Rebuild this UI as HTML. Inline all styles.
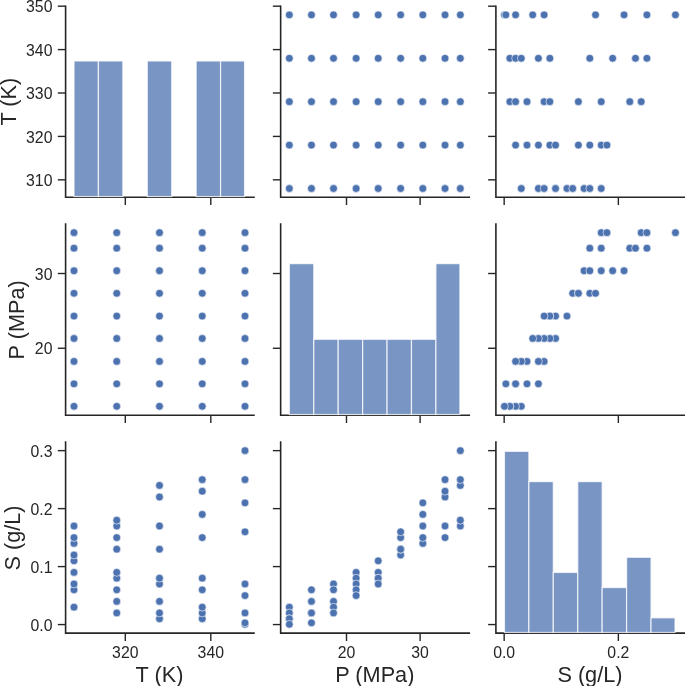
<!DOCTYPE html>
<html><head><meta charset="utf-8"><style>
html,body{margin:0;padding:0;background:#fff;}
body{width:685px;height:686px;overflow:hidden;font-family:"Liberation Sans",sans-serif;}
svg{display:block;}
svg{will-change:transform;}
</style></head><body>
<svg width="685" height="686" viewBox="0 0 685 686">
<rect width="685" height="686" fill="#fff"/>
<path d="M65.60 6.19V197.25H253.95" fill="none" stroke="#262626" stroke-width="1.6" stroke-linecap="square"/>
<line x1="57.80" y1="179.83" x2="65.60" y2="179.83" stroke="#262626" stroke-width="1.4"/>
<line x1="57.80" y1="136.42" x2="65.60" y2="136.42" stroke="#262626" stroke-width="1.4"/>
<line x1="57.80" y1="93.01" x2="65.60" y2="93.01" stroke="#262626" stroke-width="1.4"/>
<line x1="57.80" y1="49.60" x2="65.60" y2="49.60" stroke="#262626" stroke-width="1.4"/>
<line x1="57.80" y1="6.19" x2="65.60" y2="6.19" stroke="#262626" stroke-width="1.4"/>
<line x1="125.30" y1="197.25" x2="125.30" y2="205.05" stroke="#262626" stroke-width="1.4"/>
<line x1="210.80" y1="197.25" x2="210.80" y2="205.05" stroke="#262626" stroke-width="1.4"/>
<rect x="74.00" y="60.98" width="24.43" height="135.57" fill="#4c72b0" fill-opacity="0.75" stroke="#fff" stroke-opacity="0.75" stroke-width="1.25"/>
<rect x="98.43" y="60.98" width="24.43" height="135.57" fill="#4c72b0" fill-opacity="0.75" stroke="#fff" stroke-opacity="0.75" stroke-width="1.25"/>
<rect x="147.29" y="60.98" width="24.43" height="135.57" fill="#4c72b0" fill-opacity="0.75" stroke="#fff" stroke-opacity="0.75" stroke-width="1.25"/>
<rect x="196.14" y="60.98" width="24.43" height="135.57" fill="#4c72b0" fill-opacity="0.75" stroke="#fff" stroke-opacity="0.75" stroke-width="1.25"/>
<rect x="220.57" y="60.98" width="23.98" height="135.57" fill="#4c72b0" fill-opacity="0.75" stroke="#fff" stroke-opacity="0.75" stroke-width="1.25"/>
<circle cx="289.34" cy="188.51" r="3.9" fill="#4c72b0" stroke="#fff" stroke-width="0.6"/>
<circle cx="311.46" cy="188.51" r="3.9" fill="#4c72b0" stroke="#fff" stroke-width="0.6"/>
<circle cx="333.54" cy="188.51" r="3.9" fill="#4c72b0" stroke="#fff" stroke-width="0.6"/>
<circle cx="356.14" cy="188.51" r="3.9" fill="#4c72b0" stroke="#fff" stroke-width="0.6"/>
<circle cx="378.23" cy="188.51" r="3.9" fill="#4c72b0" stroke="#fff" stroke-width="0.6"/>
<circle cx="400.64" cy="188.51" r="3.9" fill="#4c72b0" stroke="#fff" stroke-width="0.6"/>
<circle cx="422.83" cy="188.51" r="3.9" fill="#4c72b0" stroke="#fff" stroke-width="0.6"/>
<circle cx="445.03" cy="188.51" r="3.9" fill="#4c72b0" stroke="#fff" stroke-width="0.6"/>
<circle cx="460.34" cy="188.51" r="3.9" fill="#4c72b0" stroke="#fff" stroke-width="0.6"/>
<circle cx="289.34" cy="145.10" r="3.9" fill="#4c72b0" stroke="#fff" stroke-width="0.6"/>
<circle cx="311.46" cy="145.10" r="3.9" fill="#4c72b0" stroke="#fff" stroke-width="0.6"/>
<circle cx="333.54" cy="145.10" r="3.9" fill="#4c72b0" stroke="#fff" stroke-width="0.6"/>
<circle cx="356.14" cy="145.10" r="3.9" fill="#4c72b0" stroke="#fff" stroke-width="0.6"/>
<circle cx="378.23" cy="145.10" r="3.9" fill="#4c72b0" stroke="#fff" stroke-width="0.6"/>
<circle cx="400.64" cy="145.10" r="3.9" fill="#4c72b0" stroke="#fff" stroke-width="0.6"/>
<circle cx="422.83" cy="145.10" r="3.9" fill="#4c72b0" stroke="#fff" stroke-width="0.6"/>
<circle cx="445.03" cy="145.10" r="3.9" fill="#4c72b0" stroke="#fff" stroke-width="0.6"/>
<circle cx="460.34" cy="145.10" r="3.9" fill="#4c72b0" stroke="#fff" stroke-width="0.6"/>
<circle cx="289.34" cy="101.69" r="3.9" fill="#4c72b0" stroke="#fff" stroke-width="0.6"/>
<circle cx="311.46" cy="101.69" r="3.9" fill="#4c72b0" stroke="#fff" stroke-width="0.6"/>
<circle cx="333.54" cy="101.69" r="3.9" fill="#4c72b0" stroke="#fff" stroke-width="0.6"/>
<circle cx="356.14" cy="101.69" r="3.9" fill="#4c72b0" stroke="#fff" stroke-width="0.6"/>
<circle cx="378.23" cy="101.69" r="3.9" fill="#4c72b0" stroke="#fff" stroke-width="0.6"/>
<circle cx="400.64" cy="101.69" r="3.9" fill="#4c72b0" stroke="#fff" stroke-width="0.6"/>
<circle cx="422.83" cy="101.69" r="3.9" fill="#4c72b0" stroke="#fff" stroke-width="0.6"/>
<circle cx="445.03" cy="101.69" r="3.9" fill="#4c72b0" stroke="#fff" stroke-width="0.6"/>
<circle cx="460.34" cy="101.69" r="3.9" fill="#4c72b0" stroke="#fff" stroke-width="0.6"/>
<circle cx="289.34" cy="58.28" r="3.9" fill="#4c72b0" stroke="#fff" stroke-width="0.6"/>
<circle cx="311.46" cy="58.28" r="3.9" fill="#4c72b0" stroke="#fff" stroke-width="0.6"/>
<circle cx="333.54" cy="58.28" r="3.9" fill="#4c72b0" stroke="#fff" stroke-width="0.6"/>
<circle cx="356.14" cy="58.28" r="3.9" fill="#4c72b0" stroke="#fff" stroke-width="0.6"/>
<circle cx="378.23" cy="58.28" r="3.9" fill="#4c72b0" stroke="#fff" stroke-width="0.6"/>
<circle cx="400.64" cy="58.28" r="3.9" fill="#4c72b0" stroke="#fff" stroke-width="0.6"/>
<circle cx="422.83" cy="58.28" r="3.9" fill="#4c72b0" stroke="#fff" stroke-width="0.6"/>
<circle cx="445.03" cy="58.28" r="3.9" fill="#4c72b0" stroke="#fff" stroke-width="0.6"/>
<circle cx="460.34" cy="58.28" r="3.9" fill="#4c72b0" stroke="#fff" stroke-width="0.6"/>
<circle cx="289.34" cy="14.87" r="3.9" fill="#4c72b0" stroke="#fff" stroke-width="0.6"/>
<circle cx="311.46" cy="14.87" r="3.9" fill="#4c72b0" stroke="#fff" stroke-width="0.6"/>
<circle cx="333.54" cy="14.87" r="3.9" fill="#4c72b0" stroke="#fff" stroke-width="0.6"/>
<circle cx="356.14" cy="14.87" r="3.9" fill="#4c72b0" stroke="#fff" stroke-width="0.6"/>
<circle cx="378.23" cy="14.87" r="3.9" fill="#4c72b0" stroke="#fff" stroke-width="0.6"/>
<circle cx="400.64" cy="14.87" r="3.9" fill="#4c72b0" stroke="#fff" stroke-width="0.6"/>
<circle cx="422.83" cy="14.87" r="3.9" fill="#4c72b0" stroke="#fff" stroke-width="0.6"/>
<circle cx="445.03" cy="14.87" r="3.9" fill="#4c72b0" stroke="#fff" stroke-width="0.6"/>
<circle cx="460.34" cy="14.87" r="3.9" fill="#4c72b0" stroke="#fff" stroke-width="0.6"/>
<path d="M280.65 6.19V197.25H469.29" fill="none" stroke="#262626" stroke-width="1.6" stroke-linecap="square"/>
<line x1="272.85" y1="179.83" x2="280.65" y2="179.83" stroke="#262626" stroke-width="1.4"/>
<line x1="272.85" y1="136.42" x2="280.65" y2="136.42" stroke="#262626" stroke-width="1.4"/>
<line x1="272.85" y1="93.01" x2="280.65" y2="93.01" stroke="#262626" stroke-width="1.4"/>
<line x1="272.85" y1="49.60" x2="280.65" y2="49.60" stroke="#262626" stroke-width="1.4"/>
<line x1="272.85" y1="6.19" x2="280.65" y2="6.19" stroke="#262626" stroke-width="1.4"/>
<line x1="346.50" y1="197.25" x2="346.50" y2="205.05" stroke="#262626" stroke-width="1.4"/>
<line x1="420.11" y1="197.25" x2="420.11" y2="205.05" stroke="#262626" stroke-width="1.4"/>
<circle cx="521.29" cy="188.51" r="3.9" fill="#4c72b0" stroke="#fff" stroke-width="0.6"/>
<circle cx="538.42" cy="188.51" r="3.9" fill="#4c72b0" stroke="#fff" stroke-width="0.6"/>
<circle cx="544.13" cy="188.51" r="3.9" fill="#4c72b0" stroke="#fff" stroke-width="0.6"/>
<circle cx="555.55" cy="188.51" r="3.9" fill="#4c72b0" stroke="#fff" stroke-width="0.6"/>
<circle cx="566.97" cy="188.51" r="3.9" fill="#4c72b0" stroke="#fff" stroke-width="0.6"/>
<circle cx="572.68" cy="188.51" r="3.9" fill="#4c72b0" stroke="#fff" stroke-width="0.6"/>
<circle cx="584.10" cy="188.51" r="3.9" fill="#4c72b0" stroke="#fff" stroke-width="0.6"/>
<circle cx="589.81" cy="188.51" r="3.9" fill="#4c72b0" stroke="#fff" stroke-width="0.6"/>
<circle cx="601.23" cy="188.51" r="3.9" fill="#4c72b0" stroke="#fff" stroke-width="0.6"/>
<circle cx="515.58" cy="145.10" r="3.9" fill="#4c72b0" stroke="#fff" stroke-width="0.6"/>
<circle cx="527.00" cy="145.10" r="3.9" fill="#4c72b0" stroke="#fff" stroke-width="0.6"/>
<circle cx="538.42" cy="145.10" r="3.9" fill="#4c72b0" stroke="#fff" stroke-width="0.6"/>
<circle cx="549.84" cy="145.10" r="3.9" fill="#4c72b0" stroke="#fff" stroke-width="0.6"/>
<circle cx="555.55" cy="145.10" r="3.9" fill="#4c72b0" stroke="#fff" stroke-width="0.6"/>
<circle cx="578.39" cy="145.10" r="3.9" fill="#4c72b0" stroke="#fff" stroke-width="0.6"/>
<circle cx="589.81" cy="145.10" r="3.9" fill="#4c72b0" stroke="#fff" stroke-width="0.6"/>
<circle cx="601.23" cy="145.10" r="3.9" fill="#4c72b0" stroke="#fff" stroke-width="0.6"/>
<circle cx="606.94" cy="145.10" r="3.9" fill="#4c72b0" stroke="#fff" stroke-width="0.6"/>
<circle cx="509.87" cy="101.69" r="3.9" fill="#4c72b0" stroke="#fff" stroke-width="0.6"/>
<circle cx="515.58" cy="101.69" r="3.9" fill="#4c72b0" stroke="#fff" stroke-width="0.6"/>
<circle cx="527.00" cy="101.69" r="3.9" fill="#4c72b0" stroke="#fff" stroke-width="0.6"/>
<circle cx="544.13" cy="101.69" r="3.9" fill="#4c72b0" stroke="#fff" stroke-width="0.6"/>
<circle cx="549.84" cy="101.69" r="3.9" fill="#4c72b0" stroke="#fff" stroke-width="0.6"/>
<circle cx="578.39" cy="101.69" r="3.9" fill="#4c72b0" stroke="#fff" stroke-width="0.6"/>
<circle cx="601.23" cy="101.69" r="3.9" fill="#4c72b0" stroke="#fff" stroke-width="0.6"/>
<circle cx="629.77" cy="101.69" r="3.9" fill="#4c72b0" stroke="#fff" stroke-width="0.6"/>
<circle cx="641.19" cy="101.69" r="3.9" fill="#4c72b0" stroke="#fff" stroke-width="0.6"/>
<circle cx="509.87" cy="58.28" r="3.9" fill="#4c72b0" stroke="#fff" stroke-width="0.6"/>
<circle cx="515.58" cy="58.28" r="3.9" fill="#4c72b0" stroke="#fff" stroke-width="0.6"/>
<circle cx="521.29" cy="58.28" r="3.9" fill="#4c72b0" stroke="#fff" stroke-width="0.6"/>
<circle cx="538.42" cy="58.28" r="3.9" fill="#4c72b0" stroke="#fff" stroke-width="0.6"/>
<circle cx="549.84" cy="58.28" r="3.9" fill="#4c72b0" stroke="#fff" stroke-width="0.6"/>
<circle cx="589.81" cy="58.28" r="3.9" fill="#4c72b0" stroke="#fff" stroke-width="0.6"/>
<circle cx="612.65" cy="58.28" r="3.9" fill="#4c72b0" stroke="#fff" stroke-width="0.6"/>
<circle cx="635.48" cy="58.28" r="3.9" fill="#4c72b0" stroke="#fff" stroke-width="0.6"/>
<circle cx="646.90" cy="58.28" r="3.9" fill="#4c72b0" stroke="#fff" stroke-width="0.6"/>
<circle cx="504.45" cy="14.87" r="3.9" fill="#4c72b0" stroke="#fff" stroke-width="0.6"/>
<circle cx="505.88" cy="14.87" r="3.9" fill="#4c72b0" stroke="#fff" stroke-width="0.6"/>
<circle cx="515.58" cy="14.87" r="3.9" fill="#4c72b0" stroke="#fff" stroke-width="0.6"/>
<circle cx="532.71" cy="14.87" r="3.9" fill="#4c72b0" stroke="#fff" stroke-width="0.6"/>
<circle cx="544.13" cy="14.87" r="3.9" fill="#4c72b0" stroke="#fff" stroke-width="0.6"/>
<circle cx="595.52" cy="14.87" r="3.9" fill="#4c72b0" stroke="#fff" stroke-width="0.6"/>
<circle cx="624.06" cy="14.87" r="3.9" fill="#4c72b0" stroke="#fff" stroke-width="0.6"/>
<circle cx="646.90" cy="14.87" r="3.9" fill="#4c72b0" stroke="#fff" stroke-width="0.6"/>
<circle cx="675.45" cy="14.87" r="3.9" fill="#4c72b0" stroke="#fff" stroke-width="0.6"/>
<path d="M495.90 6.19V197.25H684.40" fill="none" stroke="#262626" stroke-width="1.6" stroke-linecap="square"/>
<line x1="488.10" y1="179.83" x2="495.90" y2="179.83" stroke="#262626" stroke-width="1.4"/>
<line x1="488.10" y1="136.42" x2="495.90" y2="136.42" stroke="#262626" stroke-width="1.4"/>
<line x1="488.10" y1="93.01" x2="495.90" y2="93.01" stroke="#262626" stroke-width="1.4"/>
<line x1="488.10" y1="49.60" x2="495.90" y2="49.60" stroke="#262626" stroke-width="1.4"/>
<line x1="488.10" y1="6.19" x2="495.90" y2="6.19" stroke="#262626" stroke-width="1.4"/>
<line x1="504.16" y1="197.25" x2="504.16" y2="205.05" stroke="#262626" stroke-width="1.4"/>
<line x1="618.35" y1="197.25" x2="618.35" y2="205.05" stroke="#262626" stroke-width="1.4"/>
<circle cx="74.00" cy="406.30" r="3.9" fill="#4c72b0" stroke="#fff" stroke-width="0.6"/>
<circle cx="74.00" cy="383.84" r="3.9" fill="#4c72b0" stroke="#fff" stroke-width="0.6"/>
<circle cx="74.00" cy="361.41" r="3.9" fill="#4c72b0" stroke="#fff" stroke-width="0.6"/>
<circle cx="74.00" cy="338.47" r="3.9" fill="#4c72b0" stroke="#fff" stroke-width="0.6"/>
<circle cx="74.00" cy="316.04" r="3.9" fill="#4c72b0" stroke="#fff" stroke-width="0.6"/>
<circle cx="74.00" cy="293.28" r="3.9" fill="#4c72b0" stroke="#fff" stroke-width="0.6"/>
<circle cx="74.00" cy="270.75" r="3.9" fill="#4c72b0" stroke="#fff" stroke-width="0.6"/>
<circle cx="74.00" cy="248.21" r="3.9" fill="#4c72b0" stroke="#fff" stroke-width="0.6"/>
<circle cx="74.00" cy="232.66" r="3.9" fill="#4c72b0" stroke="#fff" stroke-width="0.6"/>
<circle cx="116.75" cy="406.30" r="3.9" fill="#4c72b0" stroke="#fff" stroke-width="0.6"/>
<circle cx="116.75" cy="383.84" r="3.9" fill="#4c72b0" stroke="#fff" stroke-width="0.6"/>
<circle cx="116.75" cy="361.41" r="3.9" fill="#4c72b0" stroke="#fff" stroke-width="0.6"/>
<circle cx="116.75" cy="338.47" r="3.9" fill="#4c72b0" stroke="#fff" stroke-width="0.6"/>
<circle cx="116.75" cy="316.04" r="3.9" fill="#4c72b0" stroke="#fff" stroke-width="0.6"/>
<circle cx="116.75" cy="293.28" r="3.9" fill="#4c72b0" stroke="#fff" stroke-width="0.6"/>
<circle cx="116.75" cy="270.75" r="3.9" fill="#4c72b0" stroke="#fff" stroke-width="0.6"/>
<circle cx="116.75" cy="248.21" r="3.9" fill="#4c72b0" stroke="#fff" stroke-width="0.6"/>
<circle cx="116.75" cy="232.66" r="3.9" fill="#4c72b0" stroke="#fff" stroke-width="0.6"/>
<circle cx="159.50" cy="406.30" r="3.9" fill="#4c72b0" stroke="#fff" stroke-width="0.6"/>
<circle cx="159.50" cy="383.84" r="3.9" fill="#4c72b0" stroke="#fff" stroke-width="0.6"/>
<circle cx="159.50" cy="361.41" r="3.9" fill="#4c72b0" stroke="#fff" stroke-width="0.6"/>
<circle cx="159.50" cy="338.47" r="3.9" fill="#4c72b0" stroke="#fff" stroke-width="0.6"/>
<circle cx="159.50" cy="316.04" r="3.9" fill="#4c72b0" stroke="#fff" stroke-width="0.6"/>
<circle cx="159.50" cy="293.28" r="3.9" fill="#4c72b0" stroke="#fff" stroke-width="0.6"/>
<circle cx="159.50" cy="270.75" r="3.9" fill="#4c72b0" stroke="#fff" stroke-width="0.6"/>
<circle cx="159.50" cy="248.21" r="3.9" fill="#4c72b0" stroke="#fff" stroke-width="0.6"/>
<circle cx="159.50" cy="232.66" r="3.9" fill="#4c72b0" stroke="#fff" stroke-width="0.6"/>
<circle cx="202.25" cy="406.30" r="3.9" fill="#4c72b0" stroke="#fff" stroke-width="0.6"/>
<circle cx="202.25" cy="383.84" r="3.9" fill="#4c72b0" stroke="#fff" stroke-width="0.6"/>
<circle cx="202.25" cy="361.41" r="3.9" fill="#4c72b0" stroke="#fff" stroke-width="0.6"/>
<circle cx="202.25" cy="338.47" r="3.9" fill="#4c72b0" stroke="#fff" stroke-width="0.6"/>
<circle cx="202.25" cy="316.04" r="3.9" fill="#4c72b0" stroke="#fff" stroke-width="0.6"/>
<circle cx="202.25" cy="293.28" r="3.9" fill="#4c72b0" stroke="#fff" stroke-width="0.6"/>
<circle cx="202.25" cy="270.75" r="3.9" fill="#4c72b0" stroke="#fff" stroke-width="0.6"/>
<circle cx="202.25" cy="248.21" r="3.9" fill="#4c72b0" stroke="#fff" stroke-width="0.6"/>
<circle cx="202.25" cy="232.66" r="3.9" fill="#4c72b0" stroke="#fff" stroke-width="0.6"/>
<circle cx="245.00" cy="406.30" r="3.9" fill="#4c72b0" stroke="#fff" stroke-width="0.6"/>
<circle cx="245.00" cy="383.84" r="3.9" fill="#4c72b0" stroke="#fff" stroke-width="0.6"/>
<circle cx="245.00" cy="361.41" r="3.9" fill="#4c72b0" stroke="#fff" stroke-width="0.6"/>
<circle cx="245.00" cy="338.47" r="3.9" fill="#4c72b0" stroke="#fff" stroke-width="0.6"/>
<circle cx="245.00" cy="316.04" r="3.9" fill="#4c72b0" stroke="#fff" stroke-width="0.6"/>
<circle cx="245.00" cy="293.28" r="3.9" fill="#4c72b0" stroke="#fff" stroke-width="0.6"/>
<circle cx="245.00" cy="270.75" r="3.9" fill="#4c72b0" stroke="#fff" stroke-width="0.6"/>
<circle cx="245.00" cy="248.21" r="3.9" fill="#4c72b0" stroke="#fff" stroke-width="0.6"/>
<circle cx="245.00" cy="232.66" r="3.9" fill="#4c72b0" stroke="#fff" stroke-width="0.6"/>
<path d="M65.60 223.98V415.20H253.95" fill="none" stroke="#262626" stroke-width="1.6" stroke-linecap="square"/>
<line x1="57.80" y1="348.26" x2="65.60" y2="348.26" stroke="#262626" stroke-width="1.4"/>
<line x1="57.80" y1="273.51" x2="65.60" y2="273.51" stroke="#262626" stroke-width="1.4"/>
<line x1="125.30" y1="415.20" x2="125.30" y2="423.00" stroke="#262626" stroke-width="1.4"/>
<line x1="210.80" y1="415.20" x2="210.80" y2="423.00" stroke="#262626" stroke-width="1.4"/>
<path d="M280.65 223.98V415.20H469.29" fill="none" stroke="#262626" stroke-width="1.6" stroke-linecap="square"/>
<line x1="272.85" y1="348.26" x2="280.65" y2="348.26" stroke="#262626" stroke-width="1.4"/>
<line x1="272.85" y1="273.51" x2="280.65" y2="273.51" stroke="#262626" stroke-width="1.4"/>
<line x1="346.50" y1="415.20" x2="346.50" y2="423.00" stroke="#262626" stroke-width="1.4"/>
<line x1="420.11" y1="415.20" x2="420.11" y2="423.00" stroke="#262626" stroke-width="1.4"/>
<rect x="289.34" y="263.63" width="24.43" height="150.87" fill="#4c72b0" fill-opacity="0.75" stroke="#fff" stroke-opacity="0.75" stroke-width="1.25"/>
<rect x="313.77" y="339.31" width="24.43" height="75.19" fill="#4c72b0" fill-opacity="0.75" stroke="#fff" stroke-opacity="0.75" stroke-width="1.25"/>
<rect x="338.20" y="339.31" width="24.43" height="75.19" fill="#4c72b0" fill-opacity="0.75" stroke="#fff" stroke-opacity="0.75" stroke-width="1.25"/>
<rect x="362.63" y="339.31" width="24.43" height="75.19" fill="#4c72b0" fill-opacity="0.75" stroke="#fff" stroke-opacity="0.75" stroke-width="1.25"/>
<rect x="387.05" y="339.31" width="24.43" height="75.19" fill="#4c72b0" fill-opacity="0.75" stroke="#fff" stroke-opacity="0.75" stroke-width="1.25"/>
<rect x="411.48" y="339.31" width="24.43" height="75.19" fill="#4c72b0" fill-opacity="0.75" stroke="#fff" stroke-opacity="0.75" stroke-width="1.25"/>
<rect x="435.91" y="263.63" width="23.98" height="150.87" fill="#4c72b0" fill-opacity="0.75" stroke="#fff" stroke-opacity="0.75" stroke-width="1.25"/>
<circle cx="521.29" cy="406.30" r="3.9" fill="#4c72b0" stroke="#fff" stroke-width="0.6"/>
<circle cx="538.42" cy="383.84" r="3.9" fill="#4c72b0" stroke="#fff" stroke-width="0.6"/>
<circle cx="544.13" cy="361.41" r="3.9" fill="#4c72b0" stroke="#fff" stroke-width="0.6"/>
<circle cx="555.55" cy="338.47" r="3.9" fill="#4c72b0" stroke="#fff" stroke-width="0.6"/>
<circle cx="566.97" cy="316.04" r="3.9" fill="#4c72b0" stroke="#fff" stroke-width="0.6"/>
<circle cx="572.68" cy="293.28" r="3.9" fill="#4c72b0" stroke="#fff" stroke-width="0.6"/>
<circle cx="584.10" cy="270.75" r="3.9" fill="#4c72b0" stroke="#fff" stroke-width="0.6"/>
<circle cx="589.81" cy="248.21" r="3.9" fill="#4c72b0" stroke="#fff" stroke-width="0.6"/>
<circle cx="601.23" cy="232.66" r="3.9" fill="#4c72b0" stroke="#fff" stroke-width="0.6"/>
<circle cx="515.58" cy="406.30" r="3.9" fill="#4c72b0" stroke="#fff" stroke-width="0.6"/>
<circle cx="527.00" cy="383.84" r="3.9" fill="#4c72b0" stroke="#fff" stroke-width="0.6"/>
<circle cx="538.42" cy="361.41" r="3.9" fill="#4c72b0" stroke="#fff" stroke-width="0.6"/>
<circle cx="549.84" cy="338.47" r="3.9" fill="#4c72b0" stroke="#fff" stroke-width="0.6"/>
<circle cx="555.55" cy="316.04" r="3.9" fill="#4c72b0" stroke="#fff" stroke-width="0.6"/>
<circle cx="578.39" cy="293.28" r="3.9" fill="#4c72b0" stroke="#fff" stroke-width="0.6"/>
<circle cx="589.81" cy="270.75" r="3.9" fill="#4c72b0" stroke="#fff" stroke-width="0.6"/>
<circle cx="601.23" cy="248.21" r="3.9" fill="#4c72b0" stroke="#fff" stroke-width="0.6"/>
<circle cx="606.94" cy="232.66" r="3.9" fill="#4c72b0" stroke="#fff" stroke-width="0.6"/>
<circle cx="509.87" cy="406.30" r="3.9" fill="#4c72b0" stroke="#fff" stroke-width="0.6"/>
<circle cx="515.58" cy="383.84" r="3.9" fill="#4c72b0" stroke="#fff" stroke-width="0.6"/>
<circle cx="527.00" cy="361.41" r="3.9" fill="#4c72b0" stroke="#fff" stroke-width="0.6"/>
<circle cx="544.13" cy="338.47" r="3.9" fill="#4c72b0" stroke="#fff" stroke-width="0.6"/>
<circle cx="549.84" cy="316.04" r="3.9" fill="#4c72b0" stroke="#fff" stroke-width="0.6"/>
<circle cx="578.39" cy="293.28" r="3.9" fill="#4c72b0" stroke="#fff" stroke-width="0.6"/>
<circle cx="601.23" cy="270.75" r="3.9" fill="#4c72b0" stroke="#fff" stroke-width="0.6"/>
<circle cx="629.77" cy="248.21" r="3.9" fill="#4c72b0" stroke="#fff" stroke-width="0.6"/>
<circle cx="641.19" cy="232.66" r="3.9" fill="#4c72b0" stroke="#fff" stroke-width="0.6"/>
<circle cx="509.87" cy="406.30" r="3.9" fill="#4c72b0" stroke="#fff" stroke-width="0.6"/>
<circle cx="515.58" cy="383.84" r="3.9" fill="#4c72b0" stroke="#fff" stroke-width="0.6"/>
<circle cx="521.29" cy="361.41" r="3.9" fill="#4c72b0" stroke="#fff" stroke-width="0.6"/>
<circle cx="538.42" cy="338.47" r="3.9" fill="#4c72b0" stroke="#fff" stroke-width="0.6"/>
<circle cx="549.84" cy="316.04" r="3.9" fill="#4c72b0" stroke="#fff" stroke-width="0.6"/>
<circle cx="589.81" cy="293.28" r="3.9" fill="#4c72b0" stroke="#fff" stroke-width="0.6"/>
<circle cx="612.65" cy="270.75" r="3.9" fill="#4c72b0" stroke="#fff" stroke-width="0.6"/>
<circle cx="635.48" cy="248.21" r="3.9" fill="#4c72b0" stroke="#fff" stroke-width="0.6"/>
<circle cx="646.90" cy="232.66" r="3.9" fill="#4c72b0" stroke="#fff" stroke-width="0.6"/>
<circle cx="504.45" cy="406.30" r="3.9" fill="#4c72b0" stroke="#fff" stroke-width="0.6"/>
<circle cx="505.88" cy="383.84" r="3.9" fill="#4c72b0" stroke="#fff" stroke-width="0.6"/>
<circle cx="515.58" cy="361.41" r="3.9" fill="#4c72b0" stroke="#fff" stroke-width="0.6"/>
<circle cx="532.71" cy="338.47" r="3.9" fill="#4c72b0" stroke="#fff" stroke-width="0.6"/>
<circle cx="544.13" cy="316.04" r="3.9" fill="#4c72b0" stroke="#fff" stroke-width="0.6"/>
<circle cx="595.52" cy="293.28" r="3.9" fill="#4c72b0" stroke="#fff" stroke-width="0.6"/>
<circle cx="624.06" cy="270.75" r="3.9" fill="#4c72b0" stroke="#fff" stroke-width="0.6"/>
<circle cx="646.90" cy="248.21" r="3.9" fill="#4c72b0" stroke="#fff" stroke-width="0.6"/>
<circle cx="675.45" cy="232.66" r="3.9" fill="#4c72b0" stroke="#fff" stroke-width="0.6"/>
<path d="M495.90 223.98V415.20H684.40" fill="none" stroke="#262626" stroke-width="1.6" stroke-linecap="square"/>
<line x1="488.10" y1="348.26" x2="495.90" y2="348.26" stroke="#262626" stroke-width="1.4"/>
<line x1="488.10" y1="273.51" x2="495.90" y2="273.51" stroke="#262626" stroke-width="1.4"/>
<line x1="504.16" y1="415.20" x2="504.16" y2="423.00" stroke="#262626" stroke-width="1.4"/>
<line x1="618.35" y1="415.20" x2="618.35" y2="423.00" stroke="#262626" stroke-width="1.4"/>
<circle cx="74.00" cy="607.18" r="3.9" fill="#4c72b0" stroke="#fff" stroke-width="0.6"/>
<circle cx="74.00" cy="589.78" r="3.9" fill="#4c72b0" stroke="#fff" stroke-width="0.6"/>
<circle cx="74.00" cy="583.99" r="3.9" fill="#4c72b0" stroke="#fff" stroke-width="0.6"/>
<circle cx="74.00" cy="572.39" r="3.9" fill="#4c72b0" stroke="#fff" stroke-width="0.6"/>
<circle cx="74.00" cy="560.80" r="3.9" fill="#4c72b0" stroke="#fff" stroke-width="0.6"/>
<circle cx="74.00" cy="555.00" r="3.9" fill="#4c72b0" stroke="#fff" stroke-width="0.6"/>
<circle cx="74.00" cy="543.40" r="3.9" fill="#4c72b0" stroke="#fff" stroke-width="0.6"/>
<circle cx="74.00" cy="537.60" r="3.9" fill="#4c72b0" stroke="#fff" stroke-width="0.6"/>
<circle cx="74.00" cy="526.01" r="3.9" fill="#4c72b0" stroke="#fff" stroke-width="0.6"/>
<circle cx="116.75" cy="612.97" r="3.9" fill="#4c72b0" stroke="#fff" stroke-width="0.6"/>
<circle cx="116.75" cy="601.38" r="3.9" fill="#4c72b0" stroke="#fff" stroke-width="0.6"/>
<circle cx="116.75" cy="589.78" r="3.9" fill="#4c72b0" stroke="#fff" stroke-width="0.6"/>
<circle cx="116.75" cy="578.19" r="3.9" fill="#4c72b0" stroke="#fff" stroke-width="0.6"/>
<circle cx="116.75" cy="572.39" r="3.9" fill="#4c72b0" stroke="#fff" stroke-width="0.6"/>
<circle cx="116.75" cy="549.20" r="3.9" fill="#4c72b0" stroke="#fff" stroke-width="0.6"/>
<circle cx="116.75" cy="537.60" r="3.9" fill="#4c72b0" stroke="#fff" stroke-width="0.6"/>
<circle cx="116.75" cy="526.01" r="3.9" fill="#4c72b0" stroke="#fff" stroke-width="0.6"/>
<circle cx="116.75" cy="520.21" r="3.9" fill="#4c72b0" stroke="#fff" stroke-width="0.6"/>
<circle cx="159.50" cy="618.77" r="3.9" fill="#4c72b0" stroke="#fff" stroke-width="0.6"/>
<circle cx="159.50" cy="612.97" r="3.9" fill="#4c72b0" stroke="#fff" stroke-width="0.6"/>
<circle cx="159.50" cy="601.38" r="3.9" fill="#4c72b0" stroke="#fff" stroke-width="0.6"/>
<circle cx="159.50" cy="583.99" r="3.9" fill="#4c72b0" stroke="#fff" stroke-width="0.6"/>
<circle cx="159.50" cy="578.19" r="3.9" fill="#4c72b0" stroke="#fff" stroke-width="0.6"/>
<circle cx="159.50" cy="549.20" r="3.9" fill="#4c72b0" stroke="#fff" stroke-width="0.6"/>
<circle cx="159.50" cy="526.01" r="3.9" fill="#4c72b0" stroke="#fff" stroke-width="0.6"/>
<circle cx="159.50" cy="497.02" r="3.9" fill="#4c72b0" stroke="#fff" stroke-width="0.6"/>
<circle cx="159.50" cy="485.43" r="3.9" fill="#4c72b0" stroke="#fff" stroke-width="0.6"/>
<circle cx="202.25" cy="618.77" r="3.9" fill="#4c72b0" stroke="#fff" stroke-width="0.6"/>
<circle cx="202.25" cy="612.97" r="3.9" fill="#4c72b0" stroke="#fff" stroke-width="0.6"/>
<circle cx="202.25" cy="607.18" r="3.9" fill="#4c72b0" stroke="#fff" stroke-width="0.6"/>
<circle cx="202.25" cy="589.78" r="3.9" fill="#4c72b0" stroke="#fff" stroke-width="0.6"/>
<circle cx="202.25" cy="578.19" r="3.9" fill="#4c72b0" stroke="#fff" stroke-width="0.6"/>
<circle cx="202.25" cy="537.60" r="3.9" fill="#4c72b0" stroke="#fff" stroke-width="0.6"/>
<circle cx="202.25" cy="514.41" r="3.9" fill="#4c72b0" stroke="#fff" stroke-width="0.6"/>
<circle cx="202.25" cy="491.22" r="3.9" fill="#4c72b0" stroke="#fff" stroke-width="0.6"/>
<circle cx="202.25" cy="479.63" r="3.9" fill="#4c72b0" stroke="#fff" stroke-width="0.6"/>
<circle cx="245.00" cy="624.28" r="3.9" fill="#4c72b0" stroke="#fff" stroke-width="0.6"/>
<circle cx="245.00" cy="622.83" r="3.9" fill="#4c72b0" stroke="#fff" stroke-width="0.6"/>
<circle cx="245.00" cy="612.97" r="3.9" fill="#4c72b0" stroke="#fff" stroke-width="0.6"/>
<circle cx="245.00" cy="595.58" r="3.9" fill="#4c72b0" stroke="#fff" stroke-width="0.6"/>
<circle cx="245.00" cy="583.99" r="3.9" fill="#4c72b0" stroke="#fff" stroke-width="0.6"/>
<circle cx="245.00" cy="531.81" r="3.9" fill="#4c72b0" stroke="#fff" stroke-width="0.6"/>
<circle cx="245.00" cy="502.82" r="3.9" fill="#4c72b0" stroke="#fff" stroke-width="0.6"/>
<circle cx="245.00" cy="479.63" r="3.9" fill="#4c72b0" stroke="#fff" stroke-width="0.6"/>
<circle cx="245.00" cy="450.64" r="3.9" fill="#4c72b0" stroke="#fff" stroke-width="0.6"/>
<path d="M65.60 441.96V633.15H253.95" fill="none" stroke="#262626" stroke-width="1.6" stroke-linecap="square"/>
<line x1="57.80" y1="624.57" x2="65.60" y2="624.57" stroke="#262626" stroke-width="1.4"/>
<line x1="57.80" y1="566.59" x2="65.60" y2="566.59" stroke="#262626" stroke-width="1.4"/>
<line x1="57.80" y1="508.62" x2="65.60" y2="508.62" stroke="#262626" stroke-width="1.4"/>
<line x1="57.80" y1="450.64" x2="65.60" y2="450.64" stroke="#262626" stroke-width="1.4"/>
<line x1="125.30" y1="633.15" x2="125.30" y2="640.95" stroke="#262626" stroke-width="1.4"/>
<line x1="210.80" y1="633.15" x2="210.80" y2="640.95" stroke="#262626" stroke-width="1.4"/>
<circle cx="289.34" cy="607.18" r="3.9" fill="#4c72b0" stroke="#fff" stroke-width="0.6"/>
<circle cx="311.46" cy="589.78" r="3.9" fill="#4c72b0" stroke="#fff" stroke-width="0.6"/>
<circle cx="333.54" cy="583.99" r="3.9" fill="#4c72b0" stroke="#fff" stroke-width="0.6"/>
<circle cx="356.14" cy="572.39" r="3.9" fill="#4c72b0" stroke="#fff" stroke-width="0.6"/>
<circle cx="378.23" cy="560.80" r="3.9" fill="#4c72b0" stroke="#fff" stroke-width="0.6"/>
<circle cx="400.64" cy="555.00" r="3.9" fill="#4c72b0" stroke="#fff" stroke-width="0.6"/>
<circle cx="422.83" cy="543.40" r="3.9" fill="#4c72b0" stroke="#fff" stroke-width="0.6"/>
<circle cx="445.03" cy="537.60" r="3.9" fill="#4c72b0" stroke="#fff" stroke-width="0.6"/>
<circle cx="460.34" cy="526.01" r="3.9" fill="#4c72b0" stroke="#fff" stroke-width="0.6"/>
<circle cx="289.34" cy="612.97" r="3.9" fill="#4c72b0" stroke="#fff" stroke-width="0.6"/>
<circle cx="311.46" cy="601.38" r="3.9" fill="#4c72b0" stroke="#fff" stroke-width="0.6"/>
<circle cx="333.54" cy="589.78" r="3.9" fill="#4c72b0" stroke="#fff" stroke-width="0.6"/>
<circle cx="356.14" cy="578.19" r="3.9" fill="#4c72b0" stroke="#fff" stroke-width="0.6"/>
<circle cx="378.23" cy="572.39" r="3.9" fill="#4c72b0" stroke="#fff" stroke-width="0.6"/>
<circle cx="400.64" cy="549.20" r="3.9" fill="#4c72b0" stroke="#fff" stroke-width="0.6"/>
<circle cx="422.83" cy="537.60" r="3.9" fill="#4c72b0" stroke="#fff" stroke-width="0.6"/>
<circle cx="445.03" cy="526.01" r="3.9" fill="#4c72b0" stroke="#fff" stroke-width="0.6"/>
<circle cx="460.34" cy="520.21" r="3.9" fill="#4c72b0" stroke="#fff" stroke-width="0.6"/>
<circle cx="289.34" cy="618.77" r="3.9" fill="#4c72b0" stroke="#fff" stroke-width="0.6"/>
<circle cx="311.46" cy="612.97" r="3.9" fill="#4c72b0" stroke="#fff" stroke-width="0.6"/>
<circle cx="333.54" cy="601.38" r="3.9" fill="#4c72b0" stroke="#fff" stroke-width="0.6"/>
<circle cx="356.14" cy="583.99" r="3.9" fill="#4c72b0" stroke="#fff" stroke-width="0.6"/>
<circle cx="378.23" cy="578.19" r="3.9" fill="#4c72b0" stroke="#fff" stroke-width="0.6"/>
<circle cx="400.64" cy="549.20" r="3.9" fill="#4c72b0" stroke="#fff" stroke-width="0.6"/>
<circle cx="422.83" cy="526.01" r="3.9" fill="#4c72b0" stroke="#fff" stroke-width="0.6"/>
<circle cx="445.03" cy="497.02" r="3.9" fill="#4c72b0" stroke="#fff" stroke-width="0.6"/>
<circle cx="460.34" cy="485.43" r="3.9" fill="#4c72b0" stroke="#fff" stroke-width="0.6"/>
<circle cx="289.34" cy="618.77" r="3.9" fill="#4c72b0" stroke="#fff" stroke-width="0.6"/>
<circle cx="311.46" cy="612.97" r="3.9" fill="#4c72b0" stroke="#fff" stroke-width="0.6"/>
<circle cx="333.54" cy="607.18" r="3.9" fill="#4c72b0" stroke="#fff" stroke-width="0.6"/>
<circle cx="356.14" cy="589.78" r="3.9" fill="#4c72b0" stroke="#fff" stroke-width="0.6"/>
<circle cx="378.23" cy="578.19" r="3.9" fill="#4c72b0" stroke="#fff" stroke-width="0.6"/>
<circle cx="400.64" cy="537.60" r="3.9" fill="#4c72b0" stroke="#fff" stroke-width="0.6"/>
<circle cx="422.83" cy="514.41" r="3.9" fill="#4c72b0" stroke="#fff" stroke-width="0.6"/>
<circle cx="445.03" cy="491.22" r="3.9" fill="#4c72b0" stroke="#fff" stroke-width="0.6"/>
<circle cx="460.34" cy="479.63" r="3.9" fill="#4c72b0" stroke="#fff" stroke-width="0.6"/>
<circle cx="289.34" cy="624.28" r="3.9" fill="#4c72b0" stroke="#fff" stroke-width="0.6"/>
<circle cx="311.46" cy="622.83" r="3.9" fill="#4c72b0" stroke="#fff" stroke-width="0.6"/>
<circle cx="333.54" cy="612.97" r="3.9" fill="#4c72b0" stroke="#fff" stroke-width="0.6"/>
<circle cx="356.14" cy="595.58" r="3.9" fill="#4c72b0" stroke="#fff" stroke-width="0.6"/>
<circle cx="378.23" cy="583.99" r="3.9" fill="#4c72b0" stroke="#fff" stroke-width="0.6"/>
<circle cx="400.64" cy="531.81" r="3.9" fill="#4c72b0" stroke="#fff" stroke-width="0.6"/>
<circle cx="422.83" cy="502.82" r="3.9" fill="#4c72b0" stroke="#fff" stroke-width="0.6"/>
<circle cx="445.03" cy="479.63" r="3.9" fill="#4c72b0" stroke="#fff" stroke-width="0.6"/>
<circle cx="460.34" cy="450.64" r="3.9" fill="#4c72b0" stroke="#fff" stroke-width="0.6"/>
<path d="M280.65 441.96V633.15H469.29" fill="none" stroke="#262626" stroke-width="1.6" stroke-linecap="square"/>
<line x1="272.85" y1="624.57" x2="280.65" y2="624.57" stroke="#262626" stroke-width="1.4"/>
<line x1="272.85" y1="566.59" x2="280.65" y2="566.59" stroke="#262626" stroke-width="1.4"/>
<line x1="272.85" y1="508.62" x2="280.65" y2="508.62" stroke="#262626" stroke-width="1.4"/>
<line x1="272.85" y1="450.64" x2="280.65" y2="450.64" stroke="#262626" stroke-width="1.4"/>
<line x1="346.50" y1="633.15" x2="346.50" y2="640.95" stroke="#262626" stroke-width="1.4"/>
<line x1="420.11" y1="633.15" x2="420.11" y2="640.95" stroke="#262626" stroke-width="1.4"/>
<path d="M495.90 441.96V633.15H684.40" fill="none" stroke="#262626" stroke-width="1.6" stroke-linecap="square"/>
<line x1="488.10" y1="624.57" x2="495.90" y2="624.57" stroke="#262626" stroke-width="1.4"/>
<line x1="488.10" y1="566.59" x2="495.90" y2="566.59" stroke="#262626" stroke-width="1.4"/>
<line x1="488.10" y1="508.62" x2="495.90" y2="508.62" stroke="#262626" stroke-width="1.4"/>
<line x1="488.10" y1="450.64" x2="495.90" y2="450.64" stroke="#262626" stroke-width="1.4"/>
<line x1="504.16" y1="633.15" x2="504.16" y2="640.95" stroke="#262626" stroke-width="1.4"/>
<line x1="618.35" y1="633.15" x2="618.35" y2="640.95" stroke="#262626" stroke-width="1.4"/>
<rect x="504.45" y="451.34" width="24.43" height="181.11" fill="#4c72b0" fill-opacity="0.75" stroke="#fff" stroke-opacity="0.75" stroke-width="1.25"/>
<rect x="528.88" y="481.61" width="24.43" height="150.84" fill="#4c72b0" fill-opacity="0.75" stroke="#fff" stroke-opacity="0.75" stroke-width="1.25"/>
<rect x="553.31" y="572.42" width="24.43" height="60.03" fill="#4c72b0" fill-opacity="0.75" stroke="#fff" stroke-opacity="0.75" stroke-width="1.25"/>
<rect x="577.74" y="481.61" width="24.43" height="150.84" fill="#4c72b0" fill-opacity="0.75" stroke="#fff" stroke-opacity="0.75" stroke-width="1.25"/>
<rect x="602.16" y="587.56" width="24.43" height="44.89" fill="#4c72b0" fill-opacity="0.75" stroke="#fff" stroke-opacity="0.75" stroke-width="1.25"/>
<rect x="626.59" y="557.29" width="24.43" height="75.16" fill="#4c72b0" fill-opacity="0.75" stroke="#fff" stroke-opacity="0.75" stroke-width="1.25"/>
<rect x="651.02" y="617.83" width="23.98" height="14.62" fill="#4c72b0" fill-opacity="0.75" stroke="#fff" stroke-opacity="0.75" stroke-width="1.25"/>
<text x="52.45" y="185.93" font-size="15.8" text-anchor="end" font-family="Liberation Sans, sans-serif" fill="#262626">310</text>
<text x="52.45" y="142.52" font-size="15.8" text-anchor="end" font-family="Liberation Sans, sans-serif" fill="#262626">320</text>
<text x="52.45" y="99.11" font-size="15.8" text-anchor="end" font-family="Liberation Sans, sans-serif" fill="#262626">330</text>
<text x="52.45" y="55.70" font-size="15.8" text-anchor="end" font-family="Liberation Sans, sans-serif" fill="#262626">340</text>
<text x="52.45" y="12.29" font-size="15.8" text-anchor="end" font-family="Liberation Sans, sans-serif" fill="#262626">350</text>
<text x="52.45" y="354.36" font-size="15.8" text-anchor="end" font-family="Liberation Sans, sans-serif" fill="#262626">20</text>
<text x="52.45" y="279.61" font-size="15.8" text-anchor="end" font-family="Liberation Sans, sans-serif" fill="#262626">30</text>
<text x="52.45" y="630.67" font-size="15.8" text-anchor="end" font-family="Liberation Sans, sans-serif" fill="#262626">0.0</text>
<text x="52.45" y="572.69" font-size="15.8" text-anchor="end" font-family="Liberation Sans, sans-serif" fill="#262626">0.1</text>
<text x="52.45" y="514.72" font-size="15.8" text-anchor="end" font-family="Liberation Sans, sans-serif" fill="#262626">0.2</text>
<text x="52.45" y="456.74" font-size="15.8" text-anchor="end" font-family="Liberation Sans, sans-serif" fill="#262626">0.3</text>
<text x="125.30" y="657.70" font-size="15.8" text-anchor="middle" font-family="Liberation Sans, sans-serif" fill="#262626">320</text>
<text x="210.80" y="657.70" font-size="15.8" text-anchor="middle" font-family="Liberation Sans, sans-serif" fill="#262626">340</text>
<text x="346.50" y="657.70" font-size="15.8" text-anchor="middle" font-family="Liberation Sans, sans-serif" fill="#262626">20</text>
<text x="420.11" y="657.70" font-size="15.8" text-anchor="middle" font-family="Liberation Sans, sans-serif" fill="#262626">30</text>
<text x="504.16" y="657.70" font-size="15.8" text-anchor="middle" font-family="Liberation Sans, sans-serif" fill="#262626">0.0</text>
<text x="618.35" y="657.70" font-size="15.8" text-anchor="middle" font-family="Liberation Sans, sans-serif" fill="#262626">0.2</text>
<text x="159.50" y="681.60" font-size="21.7" text-anchor="middle" font-family="Liberation Sans, sans-serif" fill="#262626">T (K)</text>
<text x="374.84" y="681.60" font-size="21.7" text-anchor="middle" font-family="Liberation Sans, sans-serif" fill="#262626">P (MPa)</text>
<text x="589.95" y="681.60" font-size="21.7" text-anchor="middle" font-family="Liberation Sans, sans-serif" fill="#262626">S (g/L)</text>
<text transform="translate(15.75 101.69) rotate(-90)" x="0" y="0" font-size="21.7" text-anchor="middle" font-family="Liberation Sans, sans-serif" fill="#262626">T (K)</text>
<text transform="translate(23.90 319.88) rotate(-90)" x="0" y="0" font-size="21.7" text-anchor="middle" font-family="Liberation Sans, sans-serif" fill="#262626">P (MPa)</text>
<text transform="translate(19.80 537.96) rotate(-90)" x="0" y="0" font-size="21.7" text-anchor="middle" font-family="Liberation Sans, sans-serif" fill="#262626">S (g/L)</text>
</svg>
</body></html>
